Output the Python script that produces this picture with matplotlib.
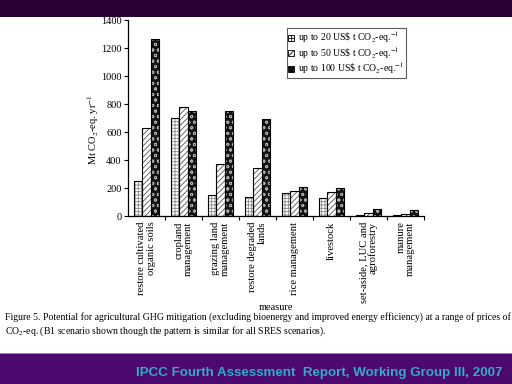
import matplotlib
matplotlib.use("Agg")
import matplotlib.pyplot as plt
from matplotlib.patches import Rectangle, Patch
import numpy as np

plt.rcParams['font.family'] = ['Liberation Serif', 'DejaVu Serif']
plt.rcParams['mathtext.fontset'] = 'stix'
plt.rcParams['hatch.linewidth'] = 0.6

categories = ["restore cultivated\norganic soils", "cropland\nmanagement", "grazing land\nmanagement",
              "restore degraded\nlands", "rice management", "livestock",
              "set-aside, LUC and\nagroforestry", "manure\nmanagement"]
up_to_20 = [248, 697, 147, 137, 166, 126, 5, 4]
up_to_50 = [627, 777, 371, 340, 182, 172, 21, 17]
up_to_100 = [1264, 749, 753, 690, 206, 202, 49, 43]
series_labels = ["up to 20 US\\$ t CO$_2$-eq.$^{-1}$",
                 "up to 50 US\\$ t CO$_2$-eq.$^{-1}$",
                 "up to 100 US\\$ t CO$_2$-eq.$^{-1}$"]
yticks = [0, 200, 400, 600, 800, 1000, 1200, 1400]

W, H = 512, 384
fig = plt.figure(figsize=(W/100, H/100), dpi=100)
fig.patch.set_facecolor('white')

# bands
fig.patches.append(Rectangle((0, 1 - 17/H), 1, 17/H, transform=fig.transFigure,
                             facecolor='#2a0034', edgecolor='none', zorder=0))
fig.patches.append(Rectangle((0, 0), 1, 30/H, transform=fig.transFigure,
                             facecolor='#4c0a70', edgecolor='none', zorder=0))
fig.patches.append(Rectangle((0, 30/H), 1, 1.2/H, transform=fig.transFigure,
                             facecolor='#9a80b0', edgecolor='none', zorder=0))

ax = fig.add_axes([128/W, 1 - 216/H, 296/W, 196/H])
x = np.arange(len(categories))
bw = 0.225
styles = [
    dict(face='white', hatchc='#8a8a8a', hatch='+++++'),
    dict(face='white', hatchc='#555555', hatch='//////'),
    dict(face='#151515', hatchc='#b0b0b0', hatch='ooo'),
]
data = [up_to_20, up_to_50, up_to_100]
handles = []
for i, (vals, st) in enumerate(zip(data, styles)):
    pos = x + (i - 1) * bw
    ax.bar(pos, vals, width=bw, color=st['face'], edgecolor=st['hatchc'],
           hatch=st['hatch'], linewidth=0, zorder=2)
    ax.bar(pos, vals, width=bw, fill=False, edgecolor='black', linewidth=0.8, zorder=3)
    handles.append(Patch(facecolor=st['face'], edgecolor='black', hatch=st['hatch'],
                         linewidth=0.6, label=series_labels[i]))

ax.set_xlim(-0.5, len(categories) - 0.5)
ax.set_ylim(0, 1400)
ax.set_yticks(yticks)
ax.set_yticklabels([str(v) for v in yticks], fontsize=7.5)
ax.set_xticks(x)
ax.set_xticklabels(categories, rotation=90, fontsize=7.7, va='top', ha='center',
                   multialignment='right', linespacing=1.05)
ax.tick_params(axis='x', which='major', length=0, pad=4)
ax.set_xticks(np.arange(0.5, len(categories), 1), minor=True)
ax.tick_params(axis='x', which='minor', length=3, direction='out', width=0.8)
ax.tick_params(axis='y', length=3, direction='out', width=0.8, pad=1.5)
ax.spines['top'].set_visible(False)
ax.spines['right'].set_visible(False)
for s in ['left', 'bottom']:
    ax.spines[s].set_linewidth(0.9)

fig.text(93/W, 1 - 130/H, "Mt CO$_2$-eq. yr$^{-1}$", rotation=90, ha='center', va='center',
         fontsize=7.5)
fig.text(276/W, 1 - 308/H, "measure", ha='center', va='center', fontsize=7.5)

leg = fig.legend(handles=handles, loc='upper left', bbox_to_anchor=(287/W, 1 - 28/H),
                 fontsize=7.0, handlelength=0.6, handleheight=0.6, handletextpad=0.4,
                 borderpad=0.15, labelspacing=0.0, borderaxespad=0,
                 fancybox=False, frameon=True)
leg.get_frame().set_edgecolor('#333333')
leg.get_frame().set_linewidth(0.8)

fig.text(5/W, 1 - 317/H,
         "Figure 5. Potential for agricultural GHG mitigation (excluding bioenergy and improved energy efficiency) at a range of prices of",
         ha='left', va='center', fontsize=7.05)
fig.text(5/W, 1 - 331/H,
         "CO$_2$-eq. (B1 scenario shown though the pattern is similar for all SRES scenarios).",
         ha='left', va='center', fontsize=7.05)

fig.text(502/W, 1 - 373/H, "IPCC Fourth Assessment  Report, Working Group III, 2007",
         ha='right', va='center', fontsize=9.6, color='#33aac8', fontweight='bold',
         family=['Liberation Sans', 'DejaVu Sans'])

fig.savefig("out.png", dpi=100)
